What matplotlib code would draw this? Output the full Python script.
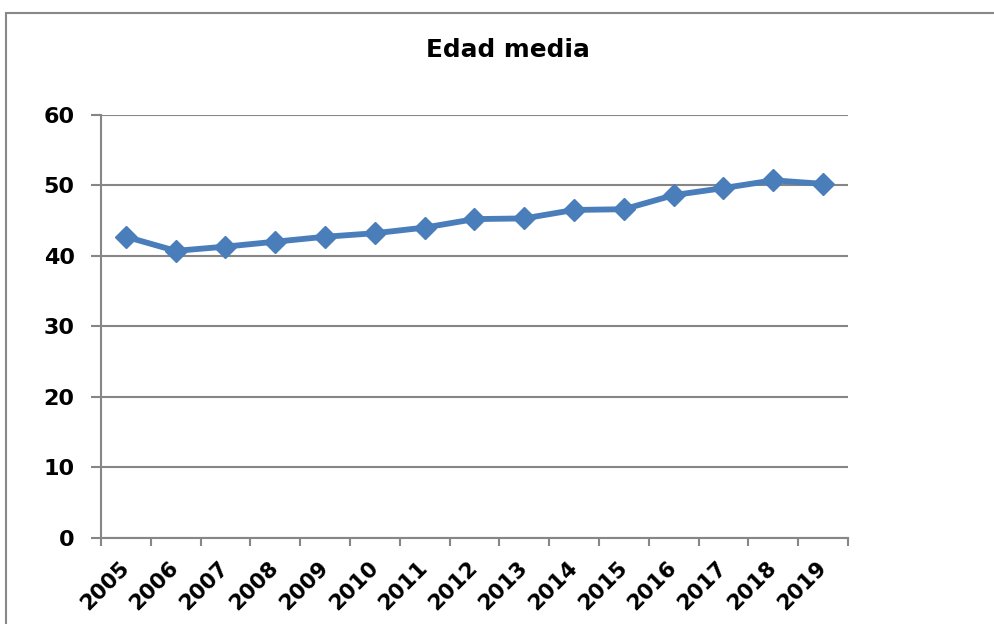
import matplotlib
matplotlib.use("Agg")
import matplotlib.pyplot as plt
from matplotlib.patches import Rectangle
import numpy as np

years = ["2005", "2006", "2007", "2008", "2009", "2010", "2011", "2012",
         "2013", "2014", "2015", "2016", "2017", "2018", "2019"]
edad_media = [42.7, 40.7, 41.3, 42.0, 42.7, 43.2, 44.0, 45.2,
              45.3, 46.5, 46.6, 48.6, 49.6, 50.7, 50.2]
y_ticks = [0, 10, 20, 30, 40, 50, 60]

plt.rcParams['font.family'] = ['DejaVu Sans']
fig = plt.figure(figsize=(9.95, 6.24), dpi=100)
ax = fig.add_axes([101/995, 1 - 538/624, (848 - 101)/995, (538 - 114.7)/624])

grid_c = "#868686"
x = np.arange(len(years))
ax.plot(x, edad_media, color="#4A7EBB", lw=4.2, marker="D", markersize=11,
        markeredgecolor="#4A7EBB", markerfacecolor="#4A7EBB", zorder=3,
        solid_joinstyle='round')

ax.set_xlim(-0.5, len(years) - 0.5)
ax.set_ylim(0, 60)
ax.set_yticks(y_ticks)
ax.set_yticklabels([str(v) for v in y_ticks], fontsize=16, fontweight='bold')
ax.yaxis.grid(True, color=grid_c, lw=1.5)
ax.set_axisbelow(True)

ax.set_xticks(x)
ax.set_xticklabels(years, fontsize=15.5, fontweight='bold', rotation=45,
                   ha='right', va='center', rotation_mode='anchor')
ax.set_xticks(np.arange(-0.5, len(years)), minor=True)
ax.tick_params(axis='x', which='major', length=0, pad=19)
ax.tick_params(axis='x', which='minor', length=6, width=1.5, color=grid_c)
ax.tick_params(axis='y', length=7, width=1.5, color=grid_c, pad=12)

for s in ["top", "right"]:
    ax.spines[s].set_visible(False)
for s in ["left", "bottom"]:
    ax.spines[s].set_color(grid_c)
    ax.spines[s].set_linewidth(1.5)

fig.text(508/995, 1 - 50/624, "Edad media", ha='center', va='center',
         fontsize=17.8, fontweight='bold')

fig.patches.append(Rectangle((5.5/995, -0.1), 1.2, 1 - 13/624 + 0.1,
                             transform=fig.transFigure, fill=False,
                             edgecolor="#888888", lw=1.5))

fig.savefig("out.png", dpi=100)
